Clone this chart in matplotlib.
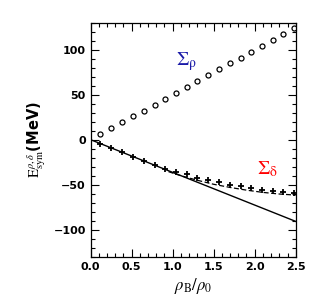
import numpy as np
import matplotlib
matplotlib.use("Agg")
import matplotlib.pyplot as plt
from matplotlib.ticker import MultipleLocator

plt.rcParams["mathtext.fontset"] = "stix"

# density ratio rho_B / rho_0
rho = [0.12, 0.25, 0.38, 0.52, 0.65, 0.78, 0.91, 1.04, 1.17, 1.30,
       1.43, 1.56, 1.70, 1.83, 1.96, 2.09, 2.22, 2.35, 2.48]
sigma_rho = [6.7, 12.6, 19.3, 25.9, 32.2, 38.9, 45.6, 51.9, 58.5, 65.2,
             71.5, 78.1, 84.8, 91.1, 97.4, 104.1, 110.4, 117.4, 123.7]
sigma_delta = [-4.4, -9.3, -14.0, -18.9, -23.3, -27.8, -32.2, -35.9, -38.5, -42.6,
               -44.8, -47.4, -50.0, -51.9, -54.0, -55.6, -56.7, -58.1, -58.9]

# solid reference line
line_rho = [0.0, 2.5]
line_val = [0.0, -90.7]

# dashed fit through sigma_delta
fit_rho = [0.95, 1.1, 1.3, 1.5, 1.7, 1.9, 2.1, 2.3, 2.5]
fit_val = [-35.5, -40.0, -45.0, -49.5, -53.0, -56.0, -58.5, -60.3, -61.5]

fig = plt.figure(figsize=(3.19, 3.05), dpi=100)
ax = fig.add_axes([0.284, 0.158, 0.643, 0.768])

ax.plot(line_rho, line_val, color="black", lw=1.0)
ax.plot(fit_rho, fit_val, color="black", lw=0.9, ls=(0, (4, 2)))
ax.plot(rho, sigma_rho, ls="none", marker="o", ms=3.6, mfc="white",
        mec="black", mew=0.9)
ax.plot(rho, sigma_delta, ls="none", marker="+", ms=5, mec="black", mew=1.3)

ax.text(1.17, 87, "$\\Sigma_{\\mathrm{\u03c1}}$", color="#1a1aa8", fontsize=14,
        ha="center", va="center")
ax.text(2.16, -33, "$\\Sigma_{\\mathrm{\u03b4}}$", color="red", fontsize=14,
        ha="center", va="center")

ax.set_xlim(0, 2.5)
ax.set_ylim(-130, 130)
ax.xaxis.set_major_locator(MultipleLocator(0.5))
ax.xaxis.set_minor_locator(MultipleLocator(0.1))
ax.yaxis.set_major_locator(MultipleLocator(50))
ax.yaxis.set_minor_locator(MultipleLocator(10))
ax.tick_params(which="both", direction="in", top=True, right=True,
               labelsize=8, width=0.8)
ax.tick_params(which="major", length=6)
ax.tick_params(which="minor", length=3)
ax.set_xticks([0, 0.5, 1.0, 1.5, 2.0, 2.5])
ax.set_xticklabels(["0.0", "0.5", "1.0", "1.5", "2.0", "2.5"], fontweight="bold")
ax.set_yticks([-100, -50, 0, 50, 100])
ax.set_yticklabels(["\u2212100", "\u221250", "0", "50", "100"], fontweight="bold")

ax.set_xlabel(r"$\rho_{\rm B}/\rho_0$", fontsize=12, labelpad=3)
ax.set_ylabel(r"$\mathrm{E}_{\rm sym}^{\rho,\delta}$(MeV)", fontsize=10.5,
              fontweight="bold", labelpad=4)
for s in ax.spines.values():
    s.set_linewidth(0.9)

fig.savefig("out.png", dpi=100)
